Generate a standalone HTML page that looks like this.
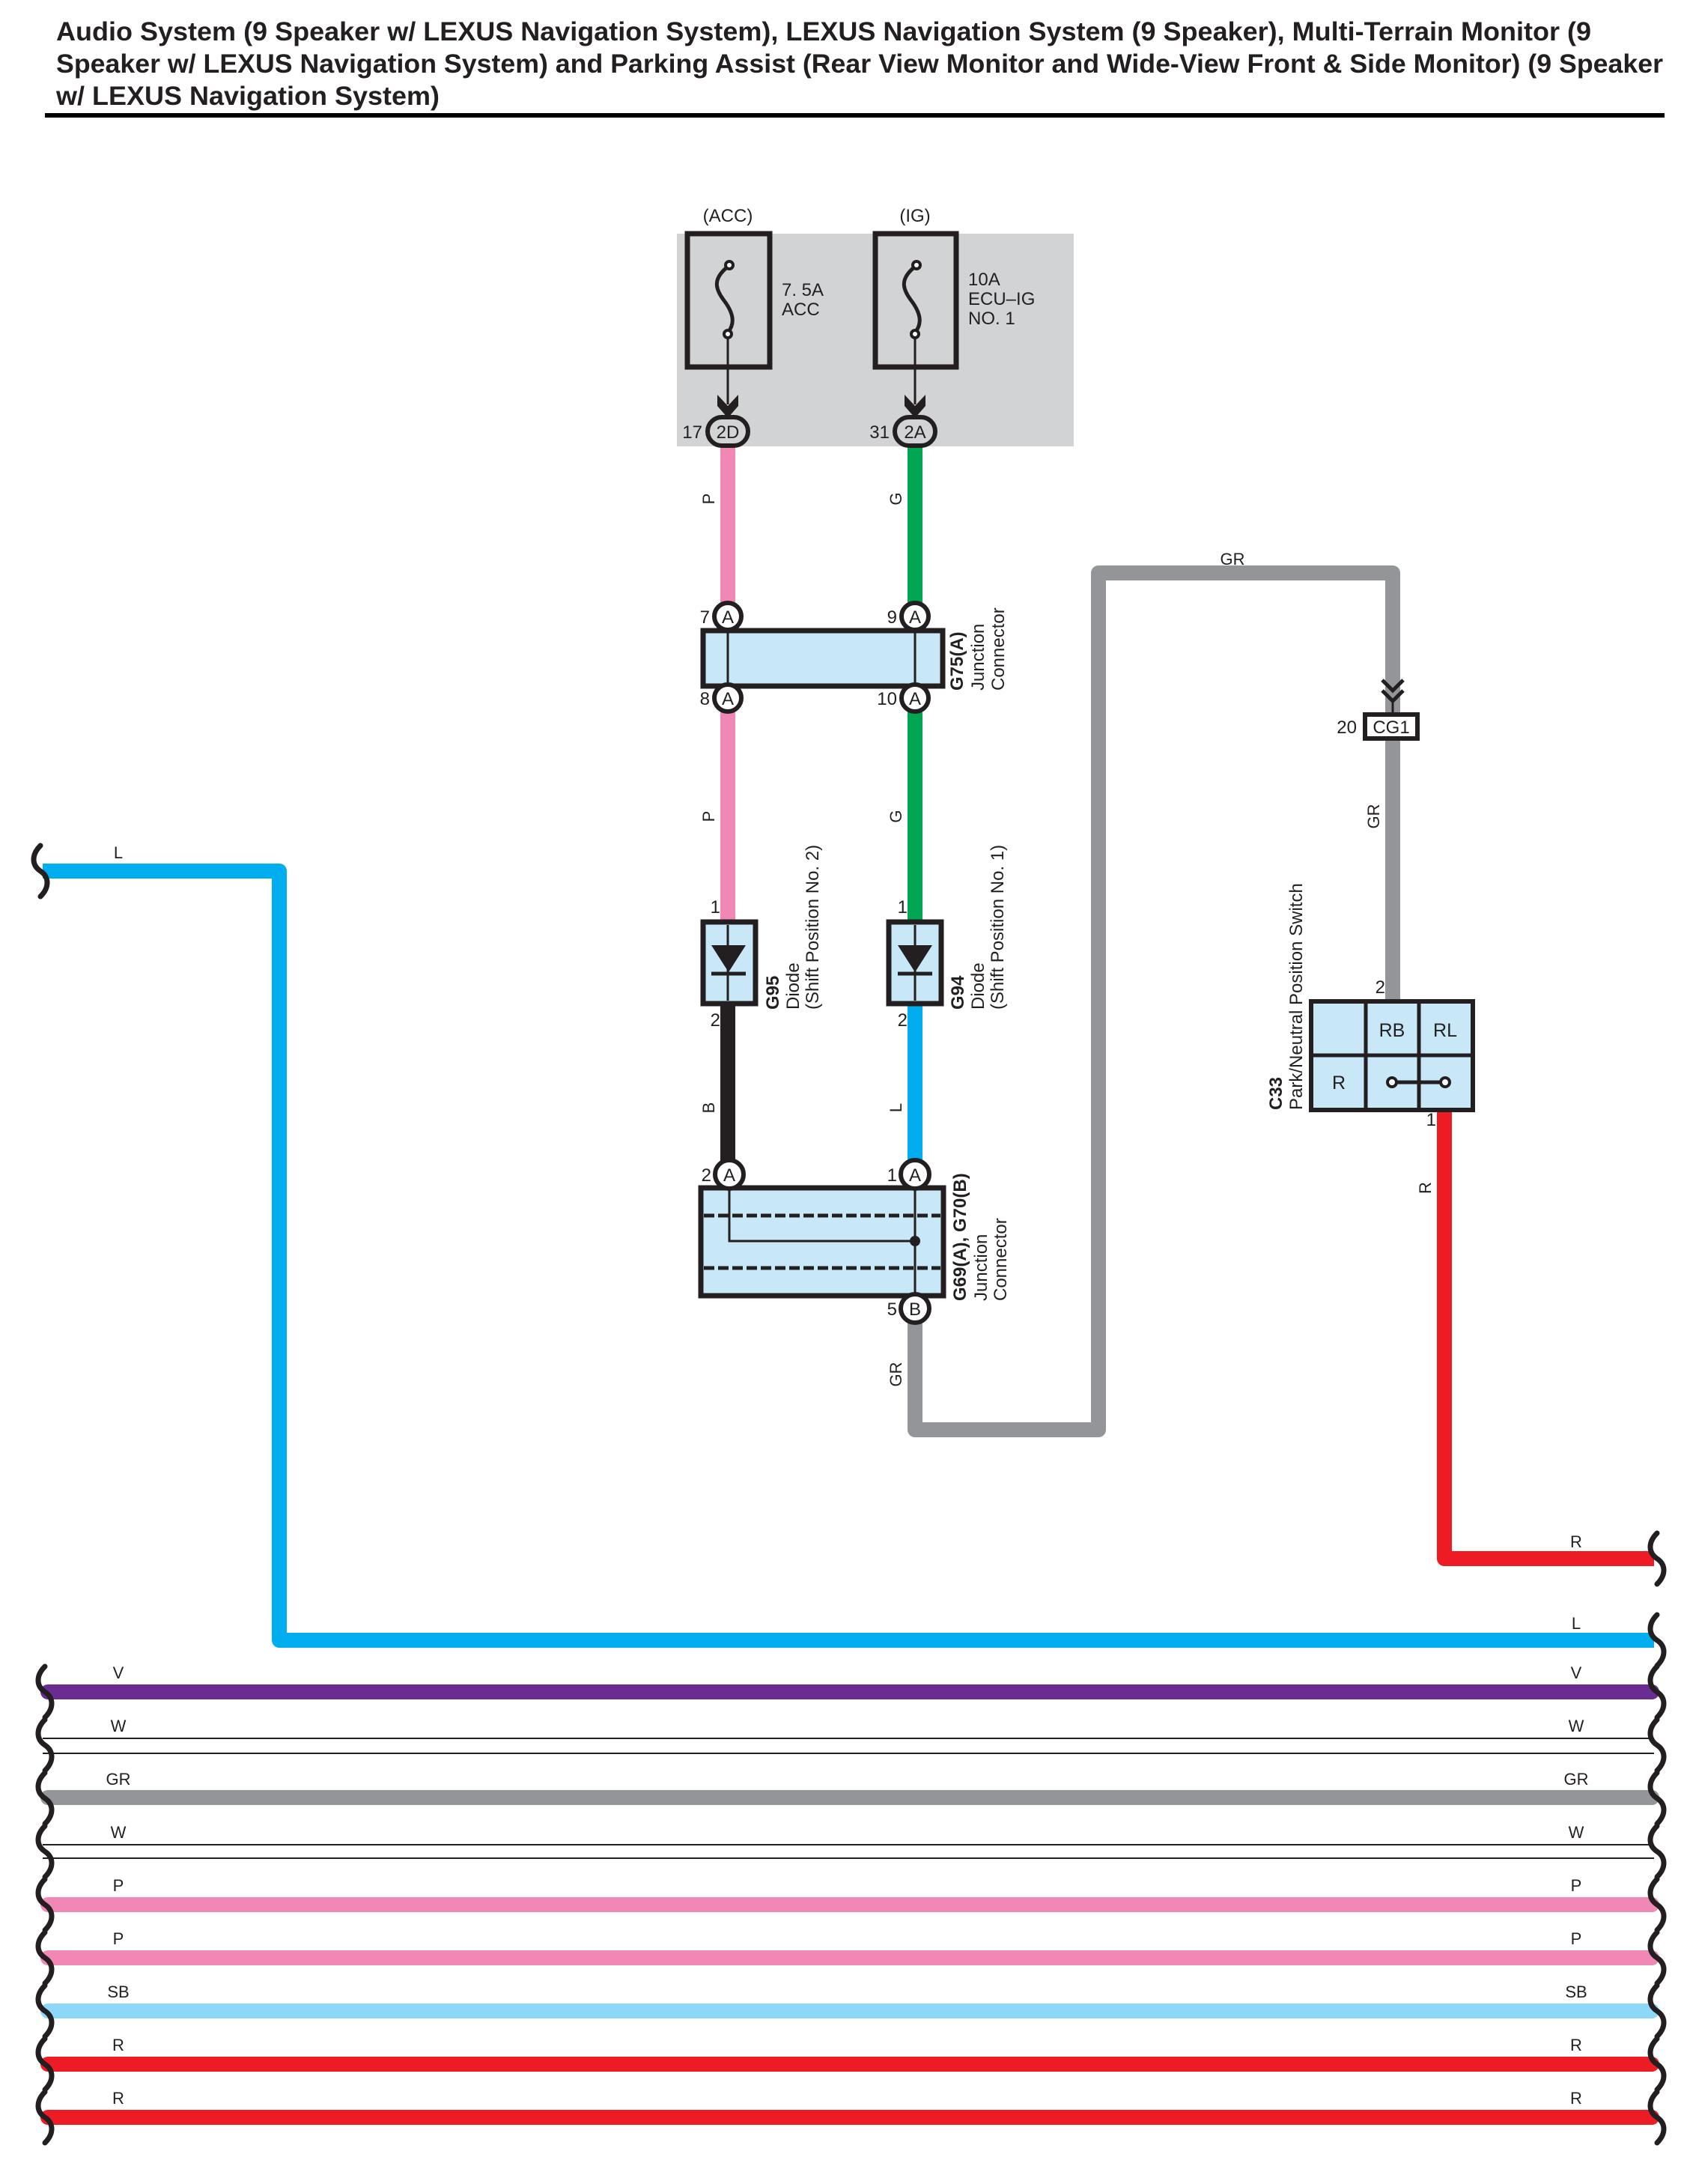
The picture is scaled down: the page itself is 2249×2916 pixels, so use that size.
<!DOCTYPE html>
<html><head><meta charset="utf-8"><style>
html,body{margin:0;padding:0;background:#fff}
svg{display:block}
text{font-family:"Liberation Sans",Arial,sans-serif;fill:#231f20}
</style></head><body>
<svg width="2249" height="2916" viewBox="0 0 2249 2916" xmlns="http://www.w3.org/2000/svg">
<defs>
<path id="brk" d="M0,-34 C-12,-22 -12,-8 0,0 C12,8 12,22 0,34" fill="none" stroke="#231f20" stroke-width="7" stroke-linecap="round"/>
</defs>
<!-- Title -->
<g font-weight="bold" font-size="35">
<text x="75" y="54" textLength="2050" lengthAdjust="spacingAndGlyphs">Audio System (9 Speaker w/ LEXUS Navigation System), LEXUS Navigation System (9 Speaker), Multi-Terrain Monitor (9</text>
<text x="75" y="97" textLength="2146" lengthAdjust="spacingAndGlyphs">Speaker w/ LEXUS Navigation System) and Parking Assist (Rear View Monitor and Wide-View Front &amp; Side Monitor) (9 Speaker</text>
<text x="75" y="140" textLength="512" lengthAdjust="spacingAndGlyphs">w/ LEXUS Navigation System)</text>
</g>
<rect x="60" y="151" width="2163" height="6" fill="#000"/>

<!-- Fuse block -->
<rect x="904" y="312" width="530" height="284" fill="#d1d3d4"/>
<text x="972" y="296" font-size="24" text-anchor="middle">(ACC)</text>
<text x="1222" y="296" font-size="24" text-anchor="middle">(IG)</text>
<rect x="918" y="312" width="110" height="178" fill="none" stroke="#231f20" stroke-width="7"/>
<rect x="1169" y="312" width="108" height="178" fill="none" stroke="#231f20" stroke-width="7"/>
<g fill="none" stroke="#231f20" stroke-width="5">
<path d="M972,356 C952,372 955,385 966,400 C980,418 982,432 972,444"/>
<path d="M1222,356 C1202,372 1205,385 1216,400 C1230,418 1232,432 1222,444"/>
</g>
<g fill="#fff" stroke="#231f20" stroke-width="4">
<circle cx="974" cy="354" r="5"/><circle cx="972" cy="446" r="5"/>
<circle cx="1224" cy="354" r="5"/><circle cx="1222" cy="446" r="5"/>
</g>
<g stroke="#231f20" stroke-width="3"><line x1="972" y1="451" x2="972" y2="540"/><line x1="1222" y1="451" x2="1222" y2="540"/></g>
<path d="M958,527 L972,542 L986,527 L986,542 L972,558 L958,542Z" fill="#231f20"/>
<path d="M1208,527 L1222,542 L1236,527 L1236,542 L1222,558 L1208,542Z" fill="#231f20"/>
<g font-size="24">
<text x="1044" y="395">7. 5A</text><text x="1044" y="421">ACC</text>
<text x="1293" y="381">10A</text><text x="1293" y="407">ECU–IG</text><text x="1293" y="433">NO. 1</text>
</g>

<!-- wires -->
<g fill="none" stroke-width="20" stroke-linejoin="round">
<line x1="972" y1="596" x2="972" y2="823" stroke="#f087b5"/>
<line x1="1222" y1="596" x2="1222" y2="823" stroke="#00a651"/>
<line x1="972" y1="932" x2="972" y2="1231" stroke="#f087b5"/>
<line x1="1222" y1="932" x2="1222" y2="1231" stroke="#00a651"/>
<line x1="972" y1="1340" x2="972" y2="1568" stroke="#231f20"/>
<line x1="1222" y1="1340" x2="1222" y2="1568" stroke="#00aeef"/>
<path d="M1222,1747 L1222,1909 L1467,1909 L1467,765 L1860,765 L1860,953" stroke="#939598"/>
<line x1="1860" y1="987" x2="1860" y2="1337" stroke="#939598"/>
<path d="M1929,1482 L1929,2081 L2209,2081" stroke="#ed1c24"/>
<path d="M57,1163 L373,1163 L373,2190 L2209,2190" stroke="#00aeef"/>
</g>

<!-- 2D / 2A connectors -->
<g fill="#d1d3d4" stroke="#231f20" stroke-width="6">
<rect x="945" y="557" width="54" height="38" rx="19"/>
<rect x="1195" y="557" width="54" height="38" rx="19"/>
</g>
<g font-size="24">
<text x="972" y="585" text-anchor="middle">2D</text>
<text x="1222" y="585" text-anchor="middle">2A</text>
<text x="938" y="585" text-anchor="end">17</text>
<text x="1188" y="585" text-anchor="end">31</text>
</g>

<!-- G75 -->
<rect x="939" y="842" width="320" height="74" fill="#c8e8f8" stroke="#231f20" stroke-width="7"/>
<g stroke="#231f20" stroke-width="3"><line x1="972" y1="823" x2="972" y2="932"/><line x1="1222" y1="823" x2="1222" y2="932"/></g>
<g fill="#fff" stroke="#231f20" stroke-width="6">
<circle cx="972" cy="823" r="18"/><circle cx="1222" cy="823" r="18"/>
<circle cx="972" cy="932" r="18"/><circle cx="1222" cy="932" r="18"/>
</g>
<g font-size="24" text-anchor="middle">
<text x="972" y="832">A</text><text x="1222" y="832">A</text>
<text x="972" y="941">A</text><text x="1222" y="941">A</text>
</g>
<g font-size="24" text-anchor="end">
<text x="948" y="832">7</text><text x="1198" y="832">9</text>
<text x="948" y="941">8</text><text x="1198" y="941">10</text>
</g>
<g transform="translate(1286,922) rotate(-90)" font-size="24">
<text font-weight="bold">G75(A)</text><text y="28">Junction</text><text y="55">Connector</text>
</g>

<!-- Diodes -->
<g fill="#c8e8f8" stroke="#231f20" stroke-width="7">
<rect x="939" y="1231" width="70" height="109"/>
<rect x="1187" y="1231" width="70" height="109"/>
</g>
<g stroke="#231f20" stroke-width="3"><line x1="972" y1="1235" x2="972" y2="1336"/><line x1="1222" y1="1235" x2="1222" y2="1336"/></g>
<path d="M950,1262 L996,1262 L973,1298Z" fill="#231f20"/>
<path d="M1199,1262 L1245,1262 L1222,1298Z" fill="#231f20"/>
<g stroke="#231f20" stroke-width="5"><line x1="950" y1="1300" x2="996" y2="1300"/><line x1="1199" y1="1300" x2="1245" y2="1300"/></g>
<g font-size="24" text-anchor="end">
<text x="962" y="1219">1</text><text x="1212" y="1219">1</text>
<text x="962" y="1370">2</text><text x="1212" y="1370">2</text>
</g>
<g transform="translate(1040,1348) rotate(-90)" font-size="24">
<text font-weight="bold">G95</text><text y="27">Diode</text><text y="53">(Shift Position No.  2)</text>
</g>
<g transform="translate(1287,1348) rotate(-90)" font-size="24">
<text font-weight="bold">G94</text><text y="27">Diode</text><text y="53">(Shift Position No.  1)</text>
</g>

<!-- G69/G70 -->
<rect x="936" y="1586" width="324" height="144" fill="#c8e8f8" stroke="#231f20" stroke-width="7"/>
<g stroke="#231f20" stroke-width="5" stroke-dasharray="14,5">
<line x1="940" y1="1623" x2="1256" y2="1623"/><line x1="940" y1="1693" x2="1256" y2="1693"/>
</g>
<path d="M974,1568 L974,1657 L1222,1657 M1222,1568 L1222,1747" fill="none" stroke="#231f20" stroke-width="3"/>
<circle cx="1222" cy="1657" r="7" fill="#231f20"/>
<g fill="#fff" stroke="#231f20" stroke-width="6">
<circle cx="974" cy="1568" r="19"/><circle cx="1222" cy="1568" r="19"/><circle cx="1222" cy="1747" r="19"/>
</g>
<g font-size="24" text-anchor="middle">
<text x="974" y="1577">A</text><text x="1222" y="1577">A</text><text x="1222" y="1756">B</text>
</g>
<g font-size="24" text-anchor="end">
<text x="950" y="1577">2</text><text x="1198" y="1577">1</text><text x="1198" y="1756">5</text>
</g>
<g transform="translate(1290,1737) rotate(-90)" font-size="24">
<text font-weight="bold">G69(A), G70(B)</text><text y="28">Junction</text><text y="54">Connector</text>
</g>

<!-- CG1 -->
<path d="M1846,908 L1860,922 L1874,908 M1846,922 L1860,936 L1874,922" fill="none" stroke="#231f20" stroke-width="5"/>
<line x1="1860" y1="936" x2="1860" y2="953" stroke="#231f20" stroke-width="3"/>
<rect x="1823" y="954" width="70" height="32" fill="#fff" stroke="#231f20" stroke-width="6"/>
<text x="1858" y="979" font-size="24" text-anchor="middle">CG1</text>
<text x="1812" y="979" font-size="24" text-anchor="end">20</text>

<!-- C33 -->
<rect x="1751" y="1337" width="216" height="145" fill="#c8e8f8" stroke="#231f20" stroke-width="6"/>
<g stroke="#231f20" stroke-width="5">
<line x1="1824" y1="1337" x2="1824" y2="1482"/><line x1="1895" y1="1337" x2="1895" y2="1482"/>
<line x1="1751" y1="1409" x2="1967" y2="1409"/>
<line x1="1859" y1="1445" x2="1930" y2="1445"/>
</g>
<g fill="#fff" stroke="#231f20" stroke-width="4"><circle cx="1859" cy="1445" r="6"/><circle cx="1930" cy="1445" r="6"/></g>
<g font-size="25" text-anchor="middle">
<text x="1859" y="1384">RB</text><text x="1930" y="1384">RL</text><text x="1788" y="1454">R</text>
</g>
<text x="1850" y="1326" font-size="24" text-anchor="end">2</text>
<text x="1918" y="1503" font-size="24" text-anchor="end">1</text>
<g transform="translate(1712,1482) rotate(-90)" font-size="24">
<text font-weight="bold">C33</text><text y="27">Park/Neutral Position Switch</text>
</g>

<!-- rotated wire labels -->
<g font-size="22" text-anchor="middle">
<text transform="translate(954,666) rotate(-90)">P</text>
<text transform="translate(1204,666) rotate(-90)">G</text>
<text transform="translate(954,1090) rotate(-90)">P</text>
<text transform="translate(1204,1090) rotate(-90)">G</text>
<text transform="translate(954,1479) rotate(-90)">B</text>
<text transform="translate(1204,1479) rotate(-90)">L</text>
<text transform="translate(1204,1835) rotate(-90)">GR</text>
<text transform="translate(1842,1090) rotate(-90)">GR</text>
<text transform="translate(1911,1586) rotate(-90)">R</text>
<text x="1646" y="754">GR</text>
<text x="158" y="1146">L</text>
<text x="2105" y="2066">R</text>
<text x="2105" y="2175">L</text>
</g>
<use href="#brk" x="54" y="1163"/>
<use href="#brk" x="2213" y="2081"/>
<use href="#brk" x="2213" y="2190"/>

<!-- bottom bundle -->
<g stroke-width="20" stroke-linecap="round">
<line x1="64" y1="2259" x2="2206" y2="2259" stroke="#6a2c91"/>
<line x1="64" y1="2400" x2="2206" y2="2400" stroke="#939598"/>
<line x1="64" y1="2543" x2="2206" y2="2543" stroke="#f087b5"/>
<line x1="64" y1="2614" x2="2206" y2="2614" stroke="#f087b5"/>
<line x1="64" y1="2685" x2="2206" y2="2685" stroke="#8dd8f8"/>
<line x1="64" y1="2756" x2="2206" y2="2756" stroke="#ed1c24"/>
<line x1="64" y1="2827" x2="2206" y2="2827" stroke="#ed1c24"/>
</g>
<g stroke="#231f20" stroke-width="2">
<line x1="57" y1="2321" x2="2209" y2="2321"/><line x1="57" y1="2341" x2="2209" y2="2341"/>
<line x1="57" y1="2463" x2="2209" y2="2463"/><line x1="57" y1="2481" x2="2209" y2="2481"/>
</g>
<g font-size="22" text-anchor="middle">
<text x="158" y="2241">V</text><text x="2105" y="2241">V</text>
<text x="158" y="2312">W</text><text x="2105" y="2312">W</text>
<text x="158" y="2383">GR</text><text x="2105" y="2383">GR</text>
<text x="158" y="2454">W</text><text x="2105" y="2454">W</text>
<text x="158" y="2525">P</text><text x="2105" y="2525">P</text>
<text x="158" y="2596">P</text><text x="2105" y="2596">P</text>
<text x="158" y="2667">SB</text><text x="2105" y="2667">SB</text>
<text x="158" y="2738">R</text><text x="2105" y="2738">R</text>
<text x="158" y="2809">R</text><text x="2105" y="2809">R</text>
</g>
<g>
<use href="#brk" x="60" y="2259"/><use href="#brk" x="60" y="2330"/><use href="#brk" x="60" y="2401"/>
<use href="#brk" x="60" y="2472"/><use href="#brk" x="60" y="2543"/><use href="#brk" x="60" y="2614"/>
<use href="#brk" x="60" y="2685"/><use href="#brk" x="60" y="2756"/><use href="#brk" x="60" y="2827"/>
<use href="#brk" x="2213" y="2259"/><use href="#brk" x="2213" y="2330"/><use href="#brk" x="2213" y="2401"/>
<use href="#brk" x="2213" y="2472"/><use href="#brk" x="2213" y="2543"/><use href="#brk" x="2213" y="2614"/>
<use href="#brk" x="2213" y="2685"/><use href="#brk" x="2213" y="2756"/><use href="#brk" x="2213" y="2827"/>
</g>
</svg>
</body></html>
